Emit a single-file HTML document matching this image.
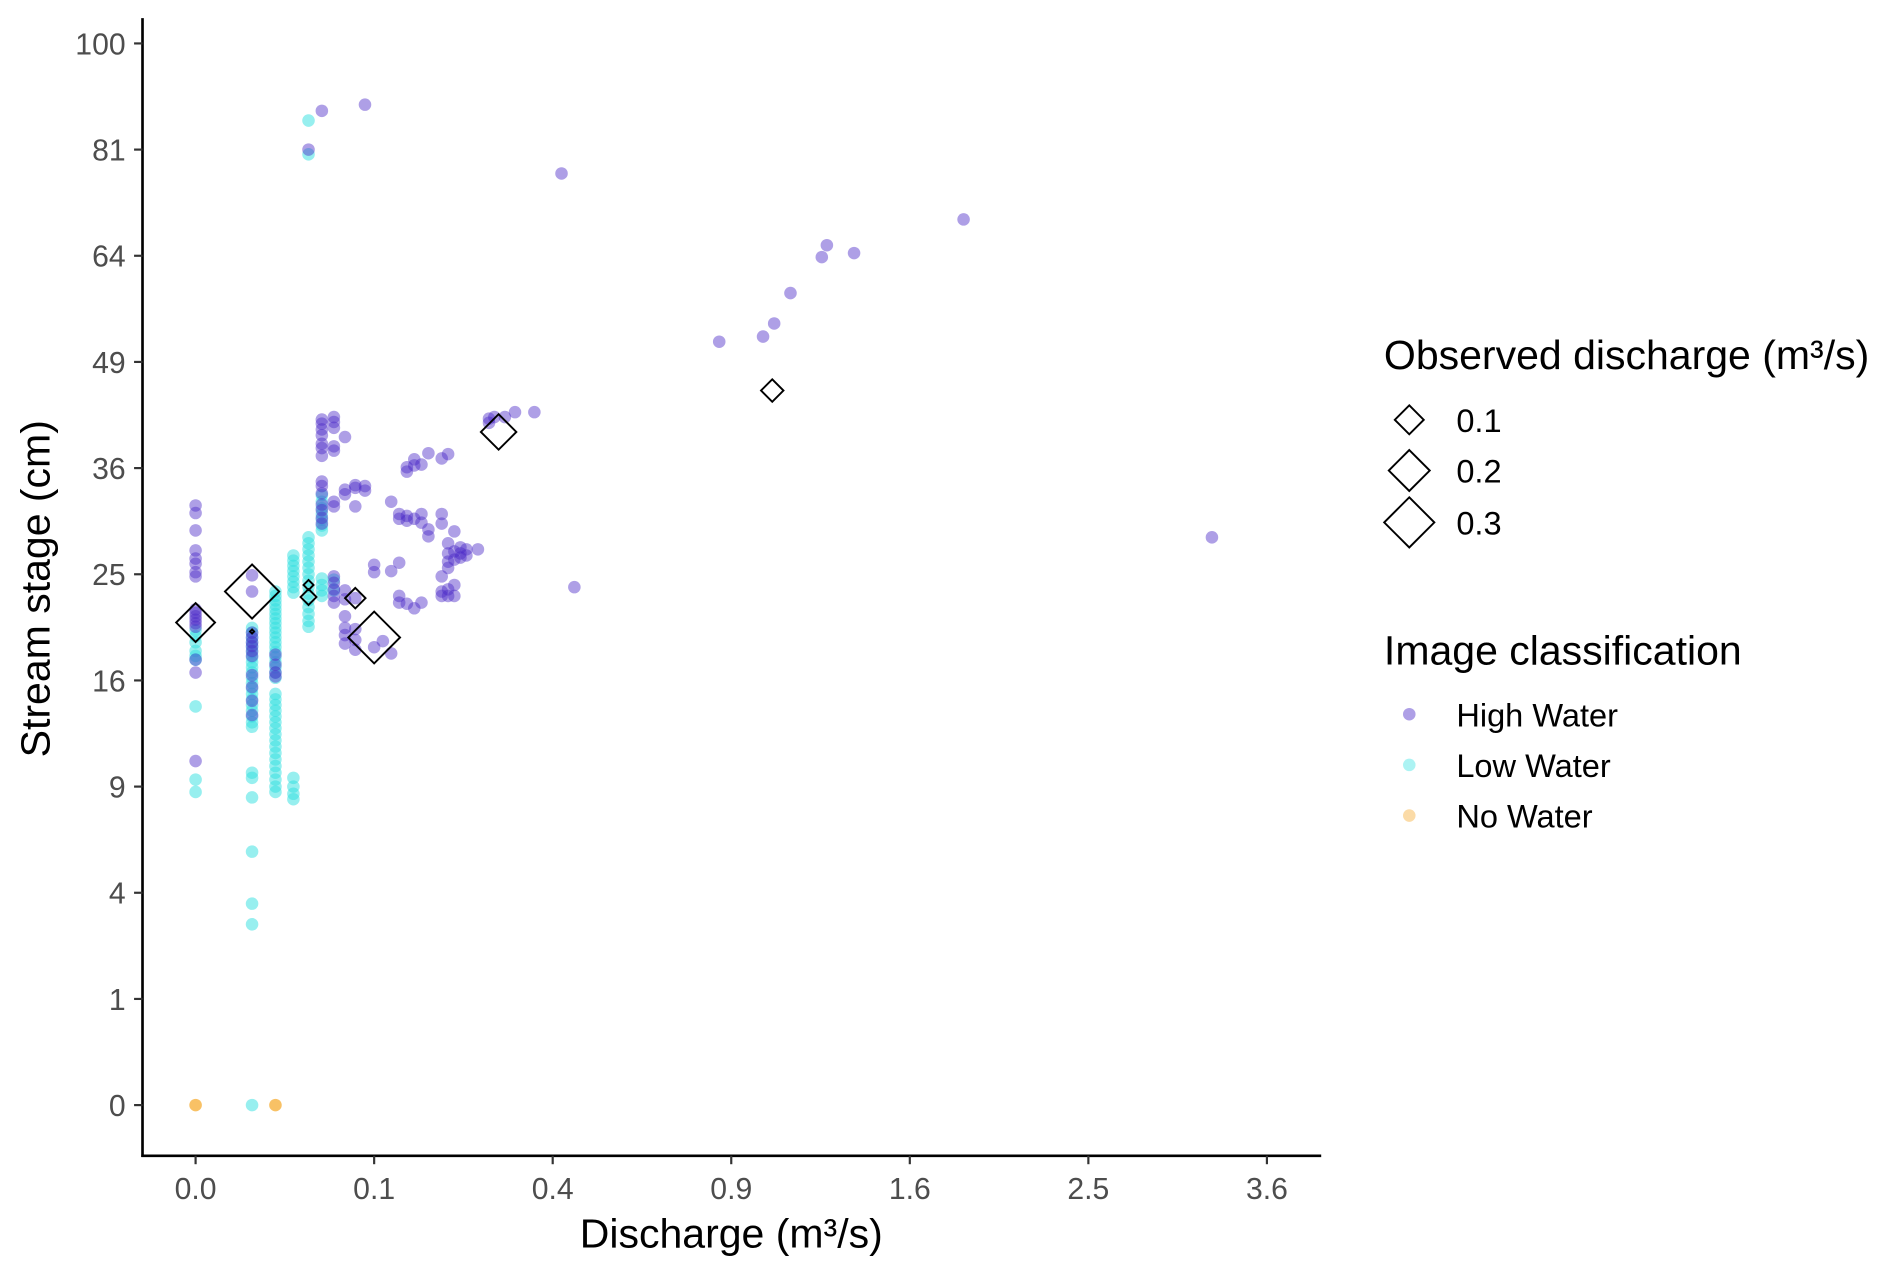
<!DOCTYPE html>
<html><head><meta charset="utf-8"><style>
html,body{margin:0;padding:0;background:#fff;}
svg{display:block;font-family:"Liberation Sans",Arial,sans-serif;}
</style></head><body>
<svg id="chart" width="1892" height="1274" viewBox="0 0 1568 1056" xmlns="http://www.w3.org/2000/svg">
<g id="plot"></g>
<g id="axes"></g>
<g id="legend"></g>
</svg>
<script>
const xTicks = [0, 0.1, 0.4, 0.9, 1.6, 2.5, 3.6];
const xTickLabels = ["0.0","0.1","0.4","0.9","1.6","2.5","3.6"];
const yTicks = [0, 1, 4, 9, 16, 25, 36, 49, 64, 81, 100];
const yTickLabels = ["0","1","4","9","16","25","36","49","64","81","100"];
const highWater = [
 [0,[31.9,31.1,29.3,27.3,26.5,26.0,25.2,24.8,21.8,21.5,21.2,20.9,20.6,20.3,17.6,16.6,10.5]],
 [0.01,[24.9,23.4,19.8,19.4,19.0,18.7,18.3,17.9,16.4,15.5,14.5,13.5]],
 [0.02,[18.0,17.2,16.6,16.3]],
 [0.04,[81.0]],
 [0.05,[87.7,41.7,41.2,40.5,39.8,38.8,38.3,37.4,34.5,34.0,33.2,32.0,31.4,30.6,30.0]],
 [0.06,[42.0,41.4,40.7,38.5,38.0,32.3,31.8,24.8,24.2,23.6,23.0,22.4]],
 [0.07,[39.6,33.6,33.1,23.5,22.7,21.2,20.2,19.6,18.9]],
 [0.08,[34.1,33.8,31.8,22.8,20.1,19.2,18.4]],
 [0.09,[88.8,34.0,33.5]],
 [0.1,[25.9,25.2,18.6]],
 [0.11,[19.1]],
 [0.12,[32.3,25.3,18.1]],
 [0.13,[31.0,30.5,26.1,23.0,22.4]],
 [0.14,[36.1,35.6,30.8,30.3,22.3]],
 [0.15,[37.0,36.3,30.5,21.9]],
 [0.16,[36.4,31.0,30.1,22.4]],
 [0.17,[37.7,29.4,28.7]],
 [0.19,[37.1,31.0,30.0,24.8,23.4,23.0]],
 [0.2,[37.6,28.0,27.0,26.2,25.6,23.6,23.0]],
 [0.21,[29.2,27.2,26.4,24.0,23.0]],
 [0.22,[27.6,27.0,26.6]],
 [0.23,[27.4,26.8]],
 [0.25,[27.4]],
 [0.27,[41.8,41.3]],
 [0.28,[42.0]],
 [0.3,[42.0]],
 [0.32,[42.6]],
 [0.36,[42.6]],
 [0.42,[77.0]],
 [0.45,[23.8]],
 [0.86,[51.7]],
 [1.01,[52.4]],
 [1.05,[54.2]],
 [1.11,[58.5]],
 [1.23,[63.8]],
 [1.25,[65.6]],
 [1.36,[64.4]],
 [1.85,[69.6]],
 [3.24,[28.6]]
];
const lowWater = [
 [0,[20.0,19.5,19.0,18.3,17.9,17.6,14.1,9.4,8.7]],
 [0.01,[20.2,19.8,19.4,19.0,18.6,18.2,17.8,17.4,17.0,16.6,16.2,15.8,15.4,15.0,14.6,14.2,13.8,13.4,13.0,12.7,9.8,9.5,8.4,5.7,3.6,2.9,0]],
 [0.02,[23.4,23.0,22.6,22.2,21.8,21.4,21.0,20.6,20.2,19.8,19.4,19.0,18.6,18.2,17.8,17.4,17.0,16.6,16.2,15.0,14.6,14.2,13.8,13.4,13.0,12.6,12.2,11.8,11.4,11.0,10.6,10.2,9.8,9.4,9.0,8.7]],
 [0.03,[26.8,26.3,25.8,25.3,24.8,24.3,23.8,23.3,9.5,9.0,8.6,8.3]],
 [0.04,[28.6,28.0,27.4,26.8,26.2,25.6,25.0,24.4,23.8,23.2,22.6,22.0,21.4,20.8,20.3,86.0,80.2]],
 [0.05,[33.0,32.3,31.6,31.0,30.4,29.8,29.3,24.6,24.0,23.5,23.0]],
 [0.06,[24.5,23.5]]
];
const noWater = [[0,[0]],[0.02,[0]]];
const obsX = [0, 0.01, 0.04, 0.04, 0.08, 0.1, 0.288, 1.043, 0.01];
const obsY = [20.66, 23.4, 24.0, 22.9, 22.8, 19.4, 40.2, 45.3, 19.9];
const obsQ = [0.18, 0.35, 0.012, 0.03, 0.05, 0.32, 0.15, 0.06, 0.002];

const NS="http://www.w3.org/2000/svg";
const X0=162, XU=148/Math.sqrt(0.1), Y0=916, YU=88;
function xs(v){return X0+Math.sqrt(v)*XU;}
function ys(v){return Y0-Math.sqrt(v)*YU;}
function mk(tag,attrs,parent){const e=document.createElementNS(NS,tag);for(const k in attrs)e.setAttribute(k,attrs[k]);parent.appendChild(e);return e;}
const plot=document.getElementById('plot'), axes=document.getElementById('axes'), legend=document.getElementById('legend');

function drawSeries(data,fill,op,name){
  data.forEach(col=>{col[1].forEach(s=>{
    const c=mk('circle',{cx:xs(col[0]),cy:ys(s),r:5.2,fill:fill,'fill-opacity':op},plot);
    
    
  });});
}
drawSeries(lowWater,'#2fe0e0',0.5,'low-water-point');
drawSeries(highWater,'#4b2bc8',0.45,'high-water-point');
drawSeries(noWater,'#f5a623',0.7,'no-water-point');
function diamond(cx,cy,h,parent){return mk('polygon',{points:`${cx},${cy-h} ${cx+h},${cy} ${cx},${cy+h} ${cx-h},${cy}`,fill:'none',stroke:'#000','stroke-width':1.6},parent);}
obsX.forEach((x,i)=>{
  const d=diamond(xs(x),ys(obsY[i]),12*Math.sqrt(obsQ[i]/0.1),plot);
  
  
});

// axes
mk('line',{x1:118,y1:15,x2:118,y2:959,stroke:'#000','stroke-width':2.2},axes);
mk('line',{x1:117,y1:958,x2:1095,y2:958,stroke:'#000','stroke-width':2.2},axes);
xTicks.forEach((t,i)=>{
  const x=xs(t);
  mk('line',{x1:x,y1:958,x2:x,y2:965,stroke:'#333','stroke-width':1.8},axes);
  const tx=mk('text',{x:x,y:994,'text-anchor':'middle','font-size':25,fill:'#4d4d4d'},axes);
  tx.textContent=xTickLabels[i];
  
  
});
yTicks.forEach((t,i)=>{
  const y=ys(t);
  mk('line',{x1:111,y1:y,x2:118,y2:y,stroke:'#333','stroke-width':1.8},axes);
  const tx=mk('text',{x:104,y:y+9,'text-anchor':'end','font-size':25,fill:'#4d4d4d'},axes);
  tx.textContent=yTickLabels[i];
  
  
});
const xt=mk('text',{x:606,y:1034,'text-anchor':'middle','font-size':34,fill:'#000'},axes);
xt.textContent='Discharge (m³/s)';


const yt=mk('text',{x:0,y:0,'text-anchor':'middle','font-size':34,fill:'#000',transform:'translate(41,488) rotate(-90)'},axes);
yt.textContent='Stream stage (cm)';



// legend
const lt1=mk('text',{x:1147,y:306,'font-size':34,fill:'#000'},legend);
lt1.textContent='Observed discharge (m³/s)';


const sizeVals=[0.1,0.2,0.3], sizeLabels=['0.1','0.2','0.3'], sizeY=[348,390,433];
sizeVals.forEach((v,i)=>{
  const d=diamond(1168,sizeY[i],12*Math.sqrt(v/0.1),legend);
  
  
  const t=mk('text',{x:1207,y:sizeY[i]+10,'font-size':27,fill:'#000'},legend);
  t.textContent=sizeLabels[i];
  
  
});
const lt2=mk('text',{x:1147,y:551,'font-size':34,fill:'#000'},legend);
lt2.textContent='Image classification';


const clsNames=['High Water','Low Water','No Water'], clsFill=['#4b2bc8','#2fe0e0','#f5a623'], clsOp=[0.45,0.4,0.4], clsY=[592,634,676];
clsNames.forEach((n,i)=>{
  const c=mk('circle',{cx:1168,cy:clsY[i],r:5.2,fill:clsFill[i],'fill-opacity':clsOp[i]},legend);
  
  
  const t=mk('text',{x:1207,y:clsY[i]+10,'font-size':27,fill:'#000'},legend);
  t.textContent=n;
  
  
});
</script>
</body></html>
